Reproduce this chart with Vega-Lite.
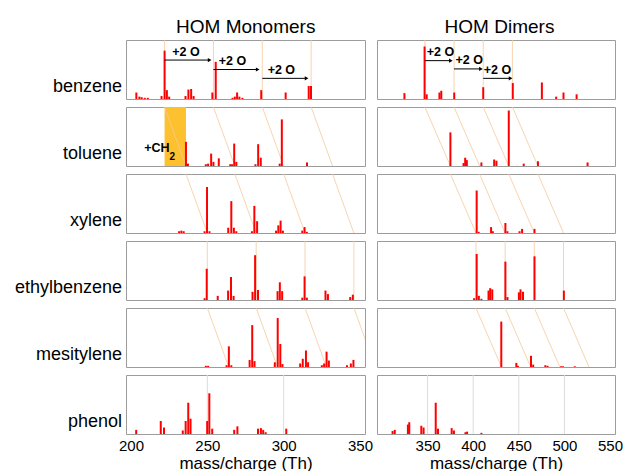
{
 "$schema": "https://vega.github.io/schema/vega-lite/v6.json",
 "padding": {"left": 14, "top": 17, "right": 5, "bottom": 0},
 "background": "white",
 "config": {
  "font": "Liberation Sans",
  "view": {"stroke": "#9c9c9c", "strokeWidth": 1},
  "axis": {"domain": false, "ticks": false, "grid": false, "labelFontSize": 15, "labelColor": "#000", "titleFontSize": 17, "titleFontWeight": "normal", "titleColor": "#000", "labelPadding": 3, "titlePadding": 2}
 },
 "datasets": {
  "mono": [
   {"mol": "benzene", "k": "p", "m": 203.5, "v": 0.11},
   {"mol": "benzene", "k": "p", "m": 205.5, "v": 0.04},
   {"mol": "benzene", "k": "p", "m": 207, "v": 0.03},
   {"mol": "benzene", "k": "p", "m": 209, "v": 0.02},
   {"mol": "benzene", "k": "p", "m": 211, "v": 0.02},
   {"mol": "benzene", "k": "p", "m": 220, "v": 0.05},
   {"mol": "benzene", "k": "p", "m": 222, "v": 0.82},
   {"mol": "benzene", "k": "p", "m": 223.5, "v": 0.15},
   {"mol": "benzene", "k": "p", "m": 225, "v": 0.04},
   {"mol": "benzene", "k": "p", "m": 235.7, "v": 0.05},
   {"mol": "benzene", "k": "p", "m": 237.6, "v": 0.16},
   {"mol": "benzene", "k": "p", "m": 239.4, "v": 0.17},
   {"mol": "benzene", "k": "p", "m": 241, "v": 0.05},
   {"mol": "benzene", "k": "p", "m": 253.3, "v": 0.11},
   {"mol": "benzene", "k": "p", "m": 255.5, "v": 0.63},
   {"mol": "benzene", "k": "p", "m": 266.5, "v": 0.02},
   {"mol": "benzene", "k": "p", "m": 268, "v": 0.04},
   {"mol": "benzene", "k": "p", "m": 269.5, "v": 0.11},
   {"mol": "benzene", "k": "p", "m": 271, "v": 0.04},
   {"mol": "benzene", "k": "p", "m": 273, "v": 0.02},
   {"mol": "benzene", "k": "p", "m": 285.3, "v": 0.15},
   {"mol": "benzene", "k": "p", "m": 301.3, "v": 0.11},
   {"mol": "benzene", "k": "p", "m": 316.4, "v": 0.22},
   {"mol": "benzene", "k": "p", "m": 317.9, "v": 0.22},
   {"mol": "toluene", "k": "p", "m": 236, "v": 0.41},
   {"mol": "toluene", "k": "p", "m": 237.3, "v": 0.04},
   {"mol": "toluene", "k": "p", "m": 249, "v": 0.03},
   {"mol": "toluene", "k": "p", "m": 250.5, "v": 0.04},
   {"mol": "toluene", "k": "p", "m": 252.5, "v": 0.21},
   {"mol": "toluene", "k": "p", "m": 254, "v": 0.07},
   {"mol": "toluene", "k": "p", "m": 257.5, "v": 0.13},
   {"mol": "toluene", "k": "p", "m": 265, "v": 0.03},
   {"mol": "toluene", "k": "p", "m": 266.2, "v": 0.03},
   {"mol": "toluene", "k": "p", "m": 267.6, "v": 0.38},
   {"mol": "toluene", "k": "p", "m": 269, "v": 0.07},
   {"mol": "toluene", "k": "p", "m": 281.5, "v": 0.03},
   {"mol": "toluene", "k": "p", "m": 283.3, "v": 0.37},
   {"mol": "toluene", "k": "p", "m": 285, "v": 0.14},
   {"mol": "toluene", "k": "p", "m": 297.4, "v": 0.04},
   {"mol": "toluene", "k": "p", "m": 298.8, "v": 0.79},
   {"mol": "toluene", "k": "p", "m": 315.3, "v": 0.06},
   {"mol": "xylene", "k": "p", "m": 231.5, "v": 0.03},
   {"mol": "xylene", "k": "p", "m": 233, "v": 0.04},
   {"mol": "xylene", "k": "p", "m": 234.5, "v": 0.03},
   {"mol": "xylene", "k": "p", "m": 248.2, "v": 0.03},
   {"mol": "xylene", "k": "p", "m": 249.8, "v": 0.78},
   {"mol": "xylene", "k": "p", "m": 251.4, "v": 0.03},
   {"mol": "xylene", "k": "p", "m": 263.7, "v": 0.09},
   {"mol": "xylene", "k": "p", "m": 265.7, "v": 0.54},
   {"mol": "xylene", "k": "p", "m": 267.4, "v": 0.09},
   {"mol": "xylene", "k": "p", "m": 269, "v": 0.03},
   {"mol": "xylene", "k": "p", "m": 279.2, "v": 0.03},
   {"mol": "xylene", "k": "p", "m": 280.8, "v": 0.46},
   {"mol": "xylene", "k": "p", "m": 282.6, "v": 0.2},
   {"mol": "xylene", "k": "p", "m": 295, "v": 0.04},
   {"mol": "xylene", "k": "p", "m": 296.5, "v": 0.13},
   {"mol": "xylene", "k": "p", "m": 298, "v": 0.21},
   {"mol": "xylene", "k": "p", "m": 299.5, "v": 0.04},
   {"mol": "xylene", "k": "p", "m": 312.2, "v": 0.04},
   {"mol": "xylene", "k": "p", "m": 313.7, "v": 0.1},
   {"mol": "xylene", "k": "p", "m": 315.2, "v": 0.02},
   {"mol": "ethylbenzene", "k": "p", "m": 248.2, "v": 0.03},
   {"mol": "ethylbenzene", "k": "p", "m": 249.6, "v": 0.53},
   {"mol": "ethylbenzene", "k": "p", "m": 256.8, "v": 0.07},
   {"mol": "ethylbenzene", "k": "p", "m": 263.6, "v": 0.16},
   {"mol": "ethylbenzene", "k": "p", "m": 265.5, "v": 0.39},
   {"mol": "ethylbenzene", "k": "p", "m": 267.2, "v": 0.07},
   {"mol": "ethylbenzene", "k": "p", "m": 279.6, "v": 0.14},
   {"mol": "ethylbenzene", "k": "p", "m": 281.3, "v": 0.76},
   {"mol": "ethylbenzene", "k": "p", "m": 283.2, "v": 0.17},
   {"mol": "ethylbenzene", "k": "p", "m": 296, "v": 0.15},
   {"mol": "ethylbenzene", "k": "p", "m": 297.5, "v": 0.3},
   {"mol": "ethylbenzene", "k": "p", "m": 299, "v": 0.15},
   {"mol": "ethylbenzene", "k": "p", "m": 312.2, "v": 0.04},
   {"mol": "ethylbenzene", "k": "p", "m": 313.7, "v": 0.4},
   {"mol": "ethylbenzene", "k": "p", "m": 315.2, "v": 0.04},
   {"mol": "ethylbenzene", "k": "p", "m": 327.4, "v": 0.16},
   {"mol": "ethylbenzene", "k": "p", "m": 329, "v": 0.1},
   {"mol": "ethylbenzene", "k": "p", "m": 343.6, "v": 0.05},
   {"mol": "ethylbenzene", "k": "p", "m": 345.3, "v": 0.09},
   {"mol": "mesitylene", "k": "p", "m": 249, "v": 0.02},
   {"mol": "mesitylene", "k": "p", "m": 250.5, "v": 0.02},
   {"mol": "mesitylene", "k": "p", "m": 262.6, "v": 0.03},
   {"mol": "mesitylene", "k": "p", "m": 264.1, "v": 0.35},
   {"mol": "mesitylene", "k": "p", "m": 265.7, "v": 0.03},
   {"mol": "mesitylene", "k": "p", "m": 277.7, "v": 0.12},
   {"mol": "mesitylene", "k": "p", "m": 279.4, "v": 0.71},
   {"mol": "mesitylene", "k": "p", "m": 280.9, "v": 0.1},
   {"mol": "mesitylene", "k": "p", "m": 294.2, "v": 0.08},
   {"mol": "mesitylene", "k": "p", "m": 296.1, "v": 0.83},
   {"mol": "mesitylene", "k": "p", "m": 297.8, "v": 0.39},
   {"mol": "mesitylene", "k": "p", "m": 299.2, "v": 0.05},
   {"mol": "mesitylene", "k": "p", "m": 310.8, "v": 0.06},
   {"mol": "mesitylene", "k": "p", "m": 312.5, "v": 0.14},
   {"mol": "mesitylene", "k": "p", "m": 314.6, "v": 0.28},
   {"mol": "mesitylene", "k": "p", "m": 316, "v": 0.08},
   {"mol": "mesitylene", "k": "p", "m": 325, "v": 0.03},
   {"mol": "mesitylene", "k": "p", "m": 326.5, "v": 0.06},
   {"mol": "mesitylene", "k": "p", "m": 328.1, "v": 0.26},
   {"mol": "mesitylene", "k": "p", "m": 329.6, "v": 0.11},
   {"mol": "mesitylene", "k": "p", "m": 341.5, "v": 0.03},
   {"mol": "mesitylene", "k": "p", "m": 344, "v": 0.06},
   {"mol": "mesitylene", "k": "p", "m": 345.7, "v": 0.12},
   {"mol": "phenol", "k": "p", "m": 203.4, "v": 0.07},
   {"mol": "phenol", "k": "p", "m": 219.5, "v": 0.22},
   {"mol": "phenol", "k": "p", "m": 221.6, "v": 0.11},
   {"mol": "phenol", "k": "p", "m": 233.9, "v": 0.06},
   {"mol": "phenol", "k": "p", "m": 235.8, "v": 0.22},
   {"mol": "phenol", "k": "p", "m": 237.5, "v": 0.53},
   {"mol": "phenol", "k": "p", "m": 239, "v": 0.26},
   {"mol": "phenol", "k": "p", "m": 249.9, "v": 0.22},
   {"mol": "phenol", "k": "p", "m": 251.3, "v": 0.69},
   {"mol": "phenol", "k": "p", "m": 253.2, "v": 0.09},
   {"mol": "phenol", "k": "p", "m": 267.6, "v": 0.07},
   {"mol": "phenol", "k": "p", "m": 269.7, "v": 0.13},
   {"mol": "phenol", "k": "p", "m": 283.2, "v": 0.09},
   {"mol": "phenol", "k": "p", "m": 285.1, "v": 0.1},
   {"mol": "phenol", "k": "p", "m": 286.6, "v": 0.07},
   {"mol": "phenol", "k": "p", "m": 288.2, "v": 0.03},
   {"mol": "phenol", "k": "p", "m": 301.7, "v": 0.09},
   {"mol": "phenol", "k": "g", "a": 250},
   {"mol": "phenol", "k": "g", "a": 300},
   {"mol": "benzene", "k": "l", "a": 222, "b": 222},
   {"mol": "benzene", "k": "l", "a": 254, "b": 254},
   {"mol": "benzene", "k": "l", "a": 286, "b": 286},
   {"mol": "benzene", "k": "l", "a": 318, "b": 318},
   {"mol": "toluene", "k": "l", "a": 222, "b": 236},
   {"mol": "toluene", "k": "l", "a": 254, "b": 268},
   {"mol": "toluene", "k": "l", "a": 286, "b": 300},
   {"mol": "toluene", "k": "l", "a": 318, "b": 332},
   {"mol": "xylene", "k": "l", "a": 236, "b": 250},
   {"mol": "xylene", "k": "l", "a": 268, "b": 282},
   {"mol": "xylene", "k": "l", "a": 300, "b": 314},
   {"mol": "xylene", "k": "l", "a": 332, "b": 346},
   {"mol": "ethylbenzene", "k": "l", "a": 250, "b": 250},
   {"mol": "ethylbenzene", "k": "l", "a": 282, "b": 282},
   {"mol": "ethylbenzene", "k": "l", "a": 314, "b": 314},
   {"mol": "ethylbenzene", "k": "l", "a": 346, "b": 346},
   {"mol": "mesitylene", "k": "l", "a": 250, "b": 264},
   {"mol": "mesitylene", "k": "l", "a": 282, "b": 296},
   {"mol": "mesitylene", "k": "l", "a": 314, "b": 328},
   {"mol": "mesitylene", "k": "l", "a": 346, "b": 360},
   {"mol": "benzene", "k": "a", "a": 222, "b": 251.5, "y": 0.66, "tx": 227, "ty": 0.8, "t": "+2 O"},
   {"mol": "benzene", "k": "a", "a": 254, "b": 283, "y": 0.5, "tx": 257.5, "ty": 0.64, "t": "+2 O"},
   {"mol": "benzene", "k": "a", "a": 286, "b": 315, "y": 0.35, "tx": 289.5, "ty": 0.49, "t": "+2 O"},
   {"mol": "toluene", "k": "r", "a": 222, "b": 236},
   {"mol": "toluene", "k": "t", "tx": 208.6, "ty": 0.3, "t": "+CH"},
   {"mol": "toluene", "k": "s", "tx": 225.2, "ty": 0.16, "t": "2"}
  ],
  "dim": [
   {"mol": "benzene", "k": "p", "m": 324.6, "v": 0.1},
   {"mol": "benzene", "k": "p", "m": 346.7, "v": 0.89},
   {"mol": "benzene", "k": "p", "m": 349, "v": 0.08},
   {"mol": "benzene", "k": "p", "m": 363, "v": 0.11},
   {"mol": "benzene", "k": "p", "m": 365, "v": 0.14},
   {"mol": "benzene", "k": "p", "m": 379.2, "v": 0.11},
   {"mol": "benzene", "k": "p", "m": 411, "v": 0.2},
   {"mol": "benzene", "k": "p", "m": 443.4, "v": 0.27},
   {"mol": "benzene", "k": "p", "m": 475.3, "v": 0.28},
   {"mol": "benzene", "k": "p", "m": 491, "v": 0.04},
   {"mol": "benzene", "k": "p", "m": 499, "v": 0.11},
   {"mol": "benzene", "k": "p", "m": 513.4, "v": 0.08},
   {"mol": "toluene", "k": "p", "m": 375, "v": 0.57},
   {"mol": "toluene", "k": "p", "m": 389.4, "v": 0.05},
   {"mol": "toluene", "k": "p", "m": 391.2, "v": 0.14},
   {"mol": "toluene", "k": "p", "m": 393, "v": 0.1},
   {"mol": "toluene", "k": "p", "m": 409, "v": 0.06},
   {"mol": "toluene", "k": "p", "m": 423, "v": 0.11},
   {"mol": "toluene", "k": "p", "m": 425.5, "v": 0.09},
   {"mol": "toluene", "k": "p", "m": 439, "v": 0.94},
   {"mol": "toluene", "k": "p", "m": 455.4, "v": 0.04},
   {"mol": "toluene", "k": "p", "m": 471, "v": 0.08},
   {"mol": "toluene", "k": "p", "m": 525.4, "v": 0.06},
   {"mol": "xylene", "k": "p", "m": 403.8, "v": 0.72},
   {"mol": "xylene", "k": "p", "m": 406, "v": 0.02},
   {"mol": "xylene", "k": "p", "m": 419.6, "v": 0.1},
   {"mol": "xylene", "k": "p", "m": 421.5, "v": 0.03},
   {"mol": "xylene", "k": "p", "m": 435.3, "v": 0.17},
   {"mol": "xylene", "k": "p", "m": 437.5, "v": 0.03},
   {"mol": "xylene", "k": "p", "m": 450.8, "v": 0.03},
   {"mol": "xylene", "k": "p", "m": 453.6, "v": 0.07},
   {"mol": "xylene", "k": "p", "m": 467.2, "v": 0.07},
   {"mol": "ethylbenzene", "k": "p", "m": 401, "v": 0.03},
   {"mol": "ethylbenzene", "k": "p", "m": 403.8, "v": 0.78},
   {"mol": "ethylbenzene", "k": "p", "m": 406.2, "v": 0.07},
   {"mol": "ethylbenzene", "k": "p", "m": 409, "v": 0.02},
   {"mol": "ethylbenzene", "k": "p", "m": 416.8, "v": 0.16},
   {"mol": "ethylbenzene", "k": "p", "m": 418.6, "v": 0.2},
   {"mol": "ethylbenzene", "k": "p", "m": 420.9, "v": 0.18},
   {"mol": "ethylbenzene", "k": "p", "m": 435.3, "v": 0.65},
   {"mol": "ethylbenzene", "k": "p", "m": 437.6, "v": 0.05},
   {"mol": "ethylbenzene", "k": "p", "m": 450.1, "v": 0.13},
   {"mol": "ethylbenzene", "k": "p", "m": 451.9, "v": 0.18},
   {"mol": "ethylbenzene", "k": "p", "m": 454.6, "v": 0.14},
   {"mol": "ethylbenzene", "k": "p", "m": 467.2, "v": 0.74},
   {"mol": "ethylbenzene", "k": "p", "m": 499.4, "v": 0.16},
   {"mol": "mesitylene", "k": "p", "m": 430.8, "v": 0.77},
   {"mol": "mesitylene", "k": "p", "m": 447.3, "v": 0.07},
   {"mol": "mesitylene", "k": "p", "m": 449, "v": 0.02},
   {"mol": "mesitylene", "k": "p", "m": 463.4, "v": 0.19},
   {"mol": "mesitylene", "k": "p", "m": 465.8, "v": 0.04},
   {"mol": "mesitylene", "k": "p", "m": 479.1, "v": 0.03},
   {"mol": "mesitylene", "k": "p", "m": 481.5, "v": 0.02},
   {"mol": "mesitylene", "k": "p", "m": 496.3, "v": 0.012},
   {"mol": "mesitylene", "k": "p", "m": 498.5, "v": 0.012},
   {"mol": "mesitylene", "k": "p", "m": 511.4, "v": 0.012},
   {"mol": "phenol", "k": "p", "m": 311.6, "v": 0.05},
   {"mol": "phenol", "k": "p", "m": 314, "v": 0.07},
   {"mol": "phenol", "k": "p", "m": 328.4, "v": 0.16},
   {"mol": "phenol", "k": "p", "m": 329.9, "v": 0.2},
   {"mol": "phenol", "k": "p", "m": 343.1, "v": 0.14},
   {"mol": "phenol", "k": "p", "m": 345.6, "v": 0.11},
   {"mol": "phenol", "k": "p", "m": 358.9, "v": 0.53},
   {"mol": "phenol", "k": "p", "m": 361.4, "v": 0.09},
   {"mol": "phenol", "k": "p", "m": 376.4, "v": 0.1},
   {"mol": "phenol", "k": "p", "m": 378.9, "v": 0.06},
   {"mol": "phenol", "k": "p", "m": 391.5, "v": 0.03},
   {"mol": "phenol", "k": "p", "m": 393.3, "v": 0.04},
   {"mol": "phenol", "k": "p", "m": 409, "v": 0.02},
   {"mol": "phenol", "k": "g", "a": 350},
   {"mol": "phenol", "k": "g", "a": 400},
   {"mol": "phenol", "k": "g", "a": 450},
   {"mol": "phenol", "k": "g", "a": 500},
   {"mol": "benzene", "k": "l", "a": 347, "b": 347},
   {"mol": "benzene", "k": "l", "a": 379, "b": 379},
   {"mol": "benzene", "k": "l", "a": 411, "b": 411},
   {"mol": "benzene", "k": "l", "a": 443, "b": 443},
   {"mol": "toluene", "k": "l", "a": 347, "b": 375},
   {"mol": "toluene", "k": "l", "a": 379, "b": 407},
   {"mol": "toluene", "k": "l", "a": 411, "b": 439},
   {"mol": "toluene", "k": "l", "a": 443, "b": 471},
   {"mol": "xylene", "k": "l", "a": 375, "b": 403},
   {"mol": "xylene", "k": "l", "a": 407, "b": 435},
   {"mol": "xylene", "k": "l", "a": 439, "b": 467},
   {"mol": "xylene", "k": "l", "a": 471, "b": 499},
   {"mol": "ethylbenzene", "k": "l", "a": 403, "b": 403},
   {"mol": "ethylbenzene", "k": "l", "a": 435, "b": 435},
   {"mol": "ethylbenzene", "k": "l", "a": 467, "b": 467},
   {"mol": "ethylbenzene", "k": "l", "a": 499, "b": 499},
   {"mol": "mesitylene", "k": "l", "a": 403, "b": 431},
   {"mol": "mesitylene", "k": "l", "a": 435, "b": 463},
   {"mol": "mesitylene", "k": "l", "a": 467, "b": 495},
   {"mol": "mesitylene", "k": "l", "a": 499, "b": 527},
   {"mol": "benzene", "k": "a", "a": 347, "b": 375.5, "y": 0.65, "tx": 349, "ty": 0.8, "t": "+2 O"},
   {"mol": "benzene", "k": "a", "a": 379, "b": 408.5, "y": 0.51, "tx": 380.5, "ty": 0.66, "t": "+2 O"},
   {"mol": "benzene", "k": "a", "a": 411, "b": 441, "y": 0.35, "tx": 411.5, "ty": 0.5, "t": "+2 O"}
  ]
 },
 "spacing": 3,
 "hconcat": [
  {
   "data": {"name": "mono"},
   "title": {"text": "HOM Monomers", "fontSize": 19, "fontWeight": "normal", "anchor": "middle", "offset": 3, "dx": 52, "color": "#000"},
   "spacing": {"row": 6},
   "facet": {"row": {"field": "mol", "type": "nominal", "sort": ["benzene", "toluene", "xylene", "ethylbenzene", "mesitylene", "phenol"],
     "header": {"title": null, "labelAngle": 0, "labelAlign": "left", "labelBaseline": "line-top", "labelLineHeight": 33, "labelFontSize": 18, "labelPadding": 3, "labelColor": "#000"}}},
   "spec": {
    "width": 239, "height": 59,
    "layer": [
     {"transform": [{"filter": "datum.k == 'r'"}], "mark": {"type": "rect", "color": "#FDC02F"},
      "encoding": {"x": {"field": "a", "type": "quantitative", "scale": {"domain": [200, 350], "nice": false}, "axis": {"title": "mass/charge (Th)", "values": [200, 250, 300, 350]}}, "x2": {"field": "b"},
       "y": {"datum": 0, "type": "quantitative", "scale": {"domain": [0, 1]}, "axis": null}, "y2": {"datum": 1}}},
     {"transform": [{"filter": "datum.k == 'g'"}], "mark": {"type": "rule", "color": "#dcdcdc", "strokeWidth": 1},
      "encoding": {"x": {"field": "a", "type": "quantitative", "scale": {"domain": [200, 350], "nice": false}, "axis": {"title": "mass/charge (Th)", "values": [200, 250, 300, 350]}},
       "y": {"datum": 0, "type": "quantitative", "scale": {"domain": [0, 1]}, "axis": null}, "y2": {"datum": 1}}},
     {"transform": [{"filter": "datum.k == 'l'"}], "mark": {"type": "rule", "color": "#f5c99c", "strokeWidth": 1, "opacity": 0.8, "clip": true},
      "encoding": {"x": {"field": "a", "type": "quantitative", "scale": {"domain": [200, 350], "nice": false}, "axis": {"title": "mass/charge (Th)", "values": [200, 250, 300, 350]}}, "x2": {"field": "b"},
       "y": {"datum": 1, "type": "quantitative", "scale": {"domain": [0, 1]}, "axis": null}, "y2": {"datum": 0}}},
     {"transform": [{"filter": "datum.k == 'p'"}], "mark": {"type": "bar", "color": "#ff0000", "size": 2},
      "encoding": {"x": {"field": "m", "type": "quantitative", "scale": {"domain": [200, 350], "nice": false}, "axis": {"title": "mass/charge (Th)", "values": [200, 250, 300, 350]}},
       "y": {"field": "v", "type": "quantitative", "scale": {"domain": [0, 1]}, "axis": null}}},
     {"transform": [{"filter": "datum.k == 'a'"}], "mark": {"type": "rule", "color": "#000", "strokeWidth": 1},
      "encoding": {"x": {"field": "a", "type": "quantitative", "scale": {"domain": [200, 350], "nice": false}, "axis": {"title": "mass/charge (Th)", "values": [200, 250, 300, 350]}}, "x2": {"field": "b"},
       "y": {"field": "y", "type": "quantitative", "scale": {"domain": [0, 1]}, "axis": null}}},
     {"transform": [{"filter": "datum.k == 'a'"}], "mark": {"type": "point", "shape": "triangle-right", "filled": true, "color": "#000", "size": 18, "opacity": 1},
      "encoding": {"x": {"field": "b", "type": "quantitative", "scale": {"domain": [200, 350], "nice": false}, "axis": {"title": "mass/charge (Th)", "values": [200, 250, 300, 350]}},
       "y": {"field": "y", "type": "quantitative", "scale": {"domain": [0, 1]}, "axis": null}}},
     {"transform": [{"filter": "datum.k == 'a' || datum.k == 't'"}], "mark": {"type": "text", "align": "left", "baseline": "middle", "fontWeight": "bold", "fontSize": 12.5, "color": "#000"},
      "encoding": {"x": {"field": "tx", "type": "quantitative", "scale": {"domain": [200, 350], "nice": false}, "axis": {"title": "mass/charge (Th)", "values": [200, 250, 300, 350]}},
       "y": {"field": "ty", "type": "quantitative", "scale": {"domain": [0, 1]}, "axis": null}, "text": {"field": "t"}}},
     {"transform": [{"filter": "datum.k == 's'"}], "mark": {"type": "text", "align": "left", "baseline": "middle", "fontWeight": "bold", "fontSize": 10, "color": "#000"},
      "encoding": {"x": {"field": "tx", "type": "quantitative", "scale": {"domain": [200, 350], "nice": false}, "axis": {"title": "mass/charge (Th)", "values": [200, 250, 300, 350]}},
       "y": {"field": "ty", "type": "quantitative", "scale": {"domain": [0, 1]}, "axis": null}, "text": {"field": "t"}}}
    ]
   }
  },
  {
   "data": {"name": "dim"},
   "title": {"text": "HOM Dimers", "fontSize": 19, "fontWeight": "normal", "anchor": "middle", "offset": 3, "color": "#000"},
   "spacing": {"row": 6},
   "facet": {"row": {"field": "mol", "type": "nominal", "sort": ["benzene", "toluene", "xylene", "ethylbenzene", "mesitylene", "phenol"],
     "header": {"title": null, "labels": false}}},
   "spec": {
    "width": 238, "height": 59,
    "layer": [
     {"transform": [{"filter": "datum.k == 'g'"}], "mark": {"type": "rule", "color": "#dcdcdc", "strokeWidth": 1},
      "encoding": {"x": {"field": "a", "type": "quantitative", "scale": {"domain": [300, 550], "nice": false}, "axis": {"title": "mass/charge (Th)", "values": [350, 400, 450, 500, 550]}},
       "y": {"datum": 0, "type": "quantitative", "scale": {"domain": [0, 1]}, "axis": null}, "y2": {"datum": 1}}},
     {"transform": [{"filter": "datum.k == 'l'"}], "mark": {"type": "rule", "color": "#f5c99c", "strokeWidth": 1, "opacity": 0.8, "clip": true},
      "encoding": {"x": {"field": "a", "type": "quantitative", "scale": {"domain": [300, 550], "nice": false}, "axis": {"title": "mass/charge (Th)", "values": [350, 400, 450, 500, 550]}}, "x2": {"field": "b"},
       "y": {"datum": 1, "type": "quantitative", "scale": {"domain": [0, 1]}, "axis": null}, "y2": {"datum": 0}}},
     {"transform": [{"filter": "datum.k == 'p'"}], "mark": {"type": "bar", "color": "#ff0000", "size": 2},
      "encoding": {"x": {"field": "m", "type": "quantitative", "scale": {"domain": [300, 550], "nice": false}, "axis": {"title": "mass/charge (Th)", "values": [350, 400, 450, 500, 550]}},
       "y": {"field": "v", "type": "quantitative", "scale": {"domain": [0, 1]}, "axis": null}}},
     {"transform": [{"filter": "datum.k == 'a'"}], "mark": {"type": "rule", "color": "#000", "strokeWidth": 1},
      "encoding": {"x": {"field": "a", "type": "quantitative", "scale": {"domain": [300, 550], "nice": false}, "axis": {"title": "mass/charge (Th)", "values": [350, 400, 450, 500, 550]}}, "x2": {"field": "b"},
       "y": {"field": "y", "type": "quantitative", "scale": {"domain": [0, 1]}, "axis": null}}},
     {"transform": [{"filter": "datum.k == 'a'"}], "mark": {"type": "point", "shape": "triangle-right", "filled": true, "color": "#000", "size": 18, "opacity": 1},
      "encoding": {"x": {"field": "b", "type": "quantitative", "scale": {"domain": [300, 550], "nice": false}, "axis": {"title": "mass/charge (Th)", "values": [350, 400, 450, 500, 550]}},
       "y": {"field": "y", "type": "quantitative", "scale": {"domain": [0, 1]}, "axis": null}}},
     {"transform": [{"filter": "datum.k == 'a'"}], "mark": {"type": "text", "align": "left", "baseline": "middle", "fontWeight": "bold", "fontSize": 12.5, "color": "#000"},
      "encoding": {"x": {"field": "tx", "type": "quantitative", "scale": {"domain": [300, 550], "nice": false}, "axis": {"title": "mass/charge (Th)", "values": [350, 400, 450, 500, 550]}},
       "y": {"field": "ty", "type": "quantitative", "scale": {"domain": [0, 1]}, "axis": null}, "text": {"field": "t"}}}
    ]
   }
  }
 ]
}
